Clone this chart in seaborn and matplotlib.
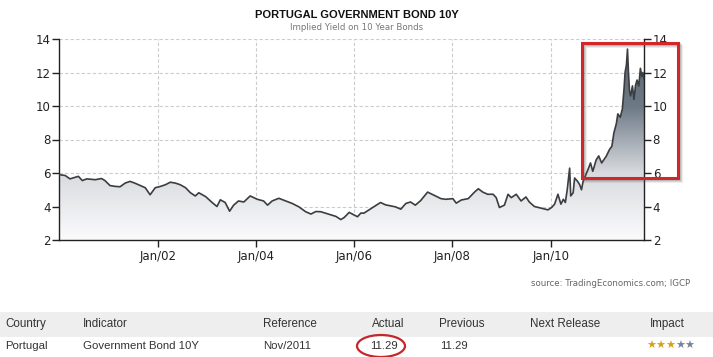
import numpy as np
import pandas as pd
import matplotlib
matplotlib.use("Agg")
import matplotlib.pyplot as plt
import matplotlib.dates as mdates
import matplotlib.patches as mpatches
from matplotlib.colors import LinearSegmentedColormap
import seaborn as sns

# ---------------- data ----------------
dates = [
    "2000-01-03", "2000-02-14", "2000-03-20", "2000-04-18", "2000-05-22", "2000-06-20",
    "2000-07-24", "2000-09-24", "2000-11-10", "2000-12-05",
    "2001-01-12", "2001-02-20", "2001-03-28", "2001-05-05", "2001-06-10", "2001-07-20",
    "2001-08-26", "2001-10-01", "2001-11-06", "2001-12-14",
    "2002-01-22", "2002-02-28", "2002-04-05", "2002-05-12", "2002-06-18", "2002-07-28",
    "2002-09-02", "2002-10-08", "2002-11-03", "2002-12-24",
    "2003-02-10", "2003-03-18", "2003-04-12", "2003-05-18", "2003-06-20", "2003-07-20",
    "2003-08-25", "2003-10-04", "2003-11-20",
    "2004-01-12", "2004-02-28", "2004-03-28", "2004-05-01", "2004-06-20", "2004-08-10",
    "2004-09-28", "2004-11-16",
    "2005-01-05", "2005-02-14", "2005-03-22", "2005-04-27", "2005-08-18", "2005-09-24",
    "2005-10-20", "2005-11-25",
    "2006-01-01", "2006-01-26", "2006-02-20", "2006-03-14", "2006-07-16", "2006-08-22",
    "2006-09-28", "2006-11-03", "2006-12-14",
    "2007-01-20", "2007-02-24", "2007-04-01", "2007-05-10", "2007-07-01", "2007-08-18",
    "2007-10-08", "2007-11-14",
    "2008-01-05", "2008-01-30", "2008-03-08", "2008-04-28", "2008-06-14", "2008-07-12",
    "2008-08-14", "2008-09-20", "2008-10-30", "2008-11-22", "2008-12-16",
    "2009-01-22", "2009-02-18", "2009-03-14", "2009-04-20", "2009-05-26", "2009-07-01",
    "2009-07-26", "2009-09-02", "2009-10-22", "2009-12-12",
    "2010-01-08", "2010-01-30", "2010-02-24", "2010-03-18", "2010-04-05", "2010-04-20",
    "2010-05-04", "2010-05-22", "2010-05-30", "2010-06-17", "2010-06-28", "2010-07-20",
    "2010-08-04", "2010-08-18", "2010-08-30", "2010-10-05", "2010-10-24", "2010-11-10",
    "2010-12-05", "2010-12-24",
    "2011-01-15", "2011-02-18", "2011-03-14", "2011-04-01", "2011-04-16", "2011-05-04",
    "2011-05-15", "2011-06-02", "2011-06-18", "2011-07-01", "2011-07-08", "2011-07-18",
    "2011-07-26", "2011-08-02", "2011-08-10", "2011-08-18", "2011-09-01", "2011-09-12",
    "2011-09-24", "2011-10-05", "2011-10-18", "2011-10-30", "2011-11-10", "2011-11-18",
    "2011-11-28",
]
yields = [
    5.90, 5.85, 5.65, 5.72, 5.80, 5.55, 5.65, 5.60, 5.67, 5.55,
    5.25, 5.20, 5.18, 5.40, 5.50, 5.38, 5.25, 5.12, 4.70, 5.12,
    5.20, 5.30, 5.45, 5.40, 5.30, 5.12, 4.82, 4.63, 4.82, 4.59,
    4.24, 4.00, 4.40, 4.24, 3.72, 4.08, 4.33, 4.27, 4.63,
    4.43, 4.33, 4.08, 4.33, 4.49, 4.33, 4.18, 3.98,
    3.69, 3.55, 3.70, 3.69, 3.41, 3.22, 3.35, 3.65,
    3.49, 3.39, 3.61, 3.60, 4.24, 4.10, 4.04, 3.98, 3.84,
    4.18, 4.27, 4.08, 4.35, 4.86, 4.67, 4.47, 4.43,
    4.47, 4.20, 4.39, 4.47, 4.86, 5.06, 4.86, 4.73, 4.73, 4.53, 3.94,
    4.08, 4.73, 4.53, 4.73, 4.33, 4.57, 4.27, 4.00, 3.90, 3.80,
    3.94, 4.14, 4.73, 4.14, 4.43, 4.24, 5.00, 6.29, 4.63, 4.82, 5.70, 5.50,
    5.31, 5.00, 5.50, 6.20, 6.60, 6.10, 6.78, 7.02,
    6.60, 7.00, 7.40, 7.60, 8.40, 8.94, 9.53, 9.33, 9.82, 11.10, 12.00, 12.45,
    13.40, 12.05, 10.90, 10.60, 11.20, 10.40, 11.25, 11.55, 11.20, 12.25, 11.75, 12.00,
    11.60,
]
y_ticks = [2, 4, 6, 8, 10, 12, 14]
x_tick_years = ["2002-01-01", "2004-01-01", "2006-01-01", "2008-01-01", "2010-01-01"]

title = "PORTUGAL GOVERNMENT BOND 10Y"
subtitle = "Implied Yield on 10 Year Bonds"
source = "source: TradingEconomics.com; IGCP"
table_header = ["Country", "Indicator", "Reference", "Actual", "Previous", "Next Release", "Impact"]
table_row = ["Portugal", "Government Bond 10Y", "Nov/2011", "11.29", "11.29", "", ""]
impact_stars = 3
impact_total = 5

# ---------------- figure ----------------
sns.set_style("white")
plt.rcParams["font.family"] = ["DejaVu Sans"]

W, H = 713, 357
fig = plt.figure(figsize=(W / 100, H / 100), dpi=100)
fig.patch.set_facecolor("white")

ax_l, ax_r = 59.3 / W, 644.3 / W
ax_t, ax_b = 1 - 39 / H, 1 - 240 / H
ax = fig.add_axes([ax_l, ax_b, ax_r - ax_l, ax_t - ax_b])

df = pd.DataFrame({"date": pd.to_datetime(dates), "yield": yields})

x0 = pd.Timestamp("2000-01-01")
x1 = pd.Timestamp("2011-11-28")
ymin, ymax = 2, 14

# gradient fill under the curve
cmap = LinearSegmentedColormap.from_list("g", ["#fbfbfc", "#d8dbdf", "#6e7986", "#56616e"], N=256)
poly = ax.fill_between(df["date"], df["yield"], ymin, color="none", lw=0)
grad = np.linspace(0, 1, 256).reshape(-1, 1)
xn0, xn1 = mdates.date2num(x0), mdates.date2num(x1)
im = ax.imshow(grad, aspect="auto", cmap=cmap, origin="lower",
               extent=[xn0, xn1, ymin, ymax], zorder=1, interpolation="bilinear")
im.set_clip_path(poly.get_paths()[0], transform=ax.transData)

sns.lineplot(data=df, x="date", y="yield", ax=ax, color="#3b3d40", lw=1.2, zorder=3)

ax.set_xlim(x0, x1)
ax.set_ylim(ymin, ymax)
ax.set_xlabel("")
ax.set_ylabel("")

ax.set_yticks(y_ticks)
ax.set_xticks(pd.to_datetime(x_tick_years))
ax.xaxis.set_major_formatter(mdates.DateFormatter("%b/%y"))

ax.grid(True, color="#cccccc", ls=(0, (3, 2)), lw=0.8)
ax.set_axisbelow(True)
for sp in ["left", "right", "bottom"]:
    ax.spines[sp].set_visible(True)
    ax.spines[sp].set_color("#222222")
    ax.spines[sp].set_linewidth(1.0)
ax.spines["top"].set_visible(False)

ax.tick_params(axis="y", which="both", left=True, right=True, labelleft=True, labelright=True,
               direction="out", length=5, width=1, color="#222222", labelsize=8.5,
               labelcolor="#222222", pad=1)
ax.tick_params(axis="x", bottom=True, direction="out", length=5, width=1, color="#222222",
               labelsize=8.5, labelcolor="#222222", pad=2)

# titles
fig.text(0.5, 1 - 15 / H, title, ha="center", va="center", fontsize=8.0,
         fontweight="bold", color="#111111", family=["Liberation Sans", "DejaVu Sans"])
fig.text(0.5, 1 - 28 / H, subtitle, ha="center", va="center", fontsize=6.2, color="#777777")

# source
fig.text(690 / W, 1 - 283 / H, source, ha="right", va="center", fontsize=6.2, color="#666666")

# red highlight rectangle (with soft shadow)
rx, ry, rw, rh = 582 / W, 1 - 178 / H, (678 - 582) / W, (178 - 43) / H
for k, a in [(3, 0.10), (2, 0.15), (1, 0.2)]:
    sh = mpatches.Rectangle((rx + k / W, ry - k / H), rw, rh, transform=fig.transFigure,
                            fill=False, ec="#555555", lw=2.2, alpha=a, zorder=9)
    fig.patches.append(sh)
rect = mpatches.Rectangle((rx, ry), rw, rh, transform=fig.transFigure, fill=False,
                          ec="#d3262b", lw=2.2, zorder=10)
fig.patches.append(rect)

# table
band = mpatches.Rectangle((0, 1 - 337 / H), 1, (337 - 312) / H, transform=fig.transFigure,
                          color="#eeeeee", lw=0, zorder=0)
fig.patches.append(band)
col_x = [5, 83, 263, 372, 439, 530, 650]
tfont = ["Liberation Sans", "DejaVu Sans"]
for cx, txt in zip(col_x, table_header):
    fig.text(cx / W, 1 - 324 / H, txt, ha="left", va="center", fontsize=8.4,
             color="#333333", family=tfont)
row_x = [5, 83, 263, 370, 440, 530, 650]
for cx, txt in zip(row_x, table_row):
    if txt:
        fig.text(cx / W, 1 - 346 / H, txt, ha="left", va="center", fontsize=8.2,
                 color="#333333", family=tfont)
for i in range(impact_total):
    fig.text((646 + i * 9.6) / W, 1 - 346 / H, "\u2605", ha="left", va="center", fontsize=8,
             color="#d4a21a" if i < impact_stars else "#76829a")

ell = mpatches.Ellipse((381 / W, 1 - 346 / H), 48 / W, 22 / H, transform=fig.transFigure,
                       fill=False, ec="#c4262b", lw=1.6, zorder=10)
fig.patches.append(ell)

fig.savefig("out.png", dpi=100, facecolor="white")
